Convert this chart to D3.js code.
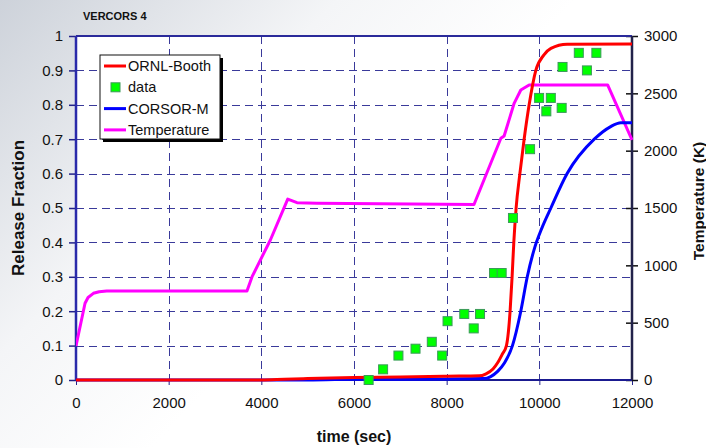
<!DOCTYPE html>
<html>
<head>
<meta charset="utf-8">
<script src="https://cdn.jsdelivr.net/npm/d3@7"></script>
<style>
  html, body { margin: 0; padding: 0; }
  body { width: 706px; height: 448px; overflow: hidden; }
  svg { display: block; font-family: "Liberation Sans", Arial, sans-serif; }
</style>
</head>
<body>
<svg id="chart" width="706" height="448"></svg>
<script>
// --- data ---
var xTicks = [0, 2000, 4000, 6000, 8000, 10000, 12000];
var yTicks = [0, 0.1, 0.2, 0.3, 0.4, 0.5, 0.6, 0.7, 0.8, 0.9, 1];
var tTicks = [0, 500, 1000, 1500, 2000, 2500, 3000];

var dataTime = [6316, 6628, 6959, 7328, 7679, 7903, 8019, 8380, 8584, 8720, 9022, 9187,
                9431, 9800, 9995, 10151, 10248, 10482, 10501, 10852, 11027, 11231];
var dataFrac = [0.0, 0.031, 0.071, 0.091, 0.111, 0.071, 0.171, 0.192, 0.150, 0.192, 0.311, 0.311,
                0.471, 0.671, 0.820, 0.781, 0.820, 0.791, 0.910, 0.951, 0.900, 0.951];

var ornlTime = [0, 4000, 4500, 5000, 6000, 7000, 8000, 8700, 8850, 9000, 9100, 9200, 9290, 9369,
                9412, 9449, 9499, 9580, 9672, 9780, 9924, 10100, 10250, 10600, 12000];
var ornlFrac = [0, 0, 0.002, 0.004, 0.007, 0.009, 0.011, 0.012, 0.018, 0.032, 0.05, 0.075, 0.1, 0.2,
                0.3, 0.4, 0.5, 0.6, 0.7, 0.8, 0.9, 0.945, 0.964, 0.976, 0.977];

var corsorTime = [0, 4500, 6000, 8000, 8800, 8950, 9100, 9250, 9420, 9600, 9740, 9900, 10050, 10249,
                  10600, 11185, 11531, 11762, 12000];
var corsorFrac = [0, 0, 0.002, 0.003, 0.004, 0.01, 0.025, 0.05, 0.1, 0.2, 0.3, 0.385, 0.44, 0.5,
                  0.6, 0.7, 0.736, 0.748, 0.748];

var tempTime = [0, 195, 260, 375, 500, 663, 3690, 3800, 4195, 4570, 4770, 5200, 8590, 9170, 9240, 9456,
                9600, 9780, 11474, 12000];
var tempK = [296, 669, 720, 756, 770, 776, 776, 901, 1221, 1578, 1546, 1541, 1530, 2108, 2128, 2413,
             2529, 2573, 2573, 2093];

var seriesNames = ["ORNL-Booth", "data", "CORSOR-M", "Temperature"];
var seriesColors = ["#ff0000", "#00ff00", "#0000ff", "#ff00ff"];

// --- layout ---
var W = 706, H = 448;
var padL = 76, padR = 632, padT = 36, padB = 380;

var svg = d3.select("#chart");

// background gradient
var defs = svg.append("defs");
var grad = defs.append("linearGradient").attr("id", "bg")
  .attr("x1", "0").attr("y1", "0").attr("x2", "1").attr("y2", "0.6");
grad.append("stop").attr("offset", "0").attr("stop-color", "#cdd2da");
grad.append("stop").attr("offset", "0.35").attr("stop-color", "#f4f5f7");
grad.append("stop").attr("offset", "0.6").attr("stop-color", "#ffffff");
svg.append("rect").attr("width", W).attr("height", H).attr("fill", "url(#bg)");

var x = d3.scaleLinear().domain([0, 12000]).range([padL, padR]);
var y = d3.scaleLinear().domain([0, 1]).range([padB, padT]);
var yT = d3.scaleLinear().domain([0, 3000]).range([padB, padT]);

// plot area
svg.append("rect").attr("x", padL).attr("y", padT)
  .attr("width", padR - padL).attr("height", padB - padT).attr("fill", "#ffffff");

// grid
var grid = svg.append("g").attr("stroke", "#3a3a9a").attr("stroke-width", 1)
  .attr("stroke-dasharray", "8,5");
grid.selectAll("line.h").data(yTicks.filter(function (d) { return d > 0 && d < 1; }))
  .enter().append("line").attr("class", "h")
  .attr("x1", padL).attr("x2", padR)
  .attr("y1", function (d) { return Math.round(y(d)) + 0.5; })
  .attr("y2", function (d) { return Math.round(y(d)) + 0.5; });
grid.selectAll("line.v").data(xTicks.filter(function (d) { return d > 0 && d < 12000; }))
  .enter().append("line").attr("class", "v")
  .attr("y1", padT).attr("y2", padB)
  .attr("x1", function (d) { return Math.round(x(d)) + 0.5; })
  .attr("x2", function (d) { return Math.round(x(d)) + 0.5; });

// axes
var fontSize = 15;
var gx = svg.append("g").attr("transform", "translate(0," + padB + ")")
  .call(d3.axisBottom(x).tickValues(xTicks).tickFormat(d3.format("d")).tickSize(5).tickPadding(12));
var gy = svg.append("g").attr("transform", "translate(" + padL + ",0)")
  .call(d3.axisLeft(y).tickValues(yTicks).tickFormat(function (d) { return d === 0 || d === 1 ? String(d) : d3.format(".1f")(d); }).tickSize(7).tickPadding(6));
var gr = svg.append("g").attr("transform", "translate(" + padR + ",0)")
  .call(d3.axisRight(yT).tickValues(tTicks).tickFormat(d3.format("d")).tickSize(6).tickPadding(6));
gr.selectAll(".tick line").attr("x1", -6);

[gx, gy, gr].forEach(function (g) {
  g.select(".domain").remove();
  g.selectAll(".tick text").attr("font-size", fontSize)
    .attr("font-family", "Liberation Sans, Arial, sans-serif").attr("fill", "#111");
});
gx.selectAll(".tick line").attr("stroke", "#22228a");
gy.selectAll(".tick line").attr("stroke", "#22228a").attr("stroke-width", 1.5);
gr.selectAll(".tick line").attr("stroke", "#111").attr("stroke-width", 1.5);

// frame
svg.append("line").attr("x1", padL).attr("x2", padR).attr("y1", padT).attr("y2", padT)
  .attr("stroke", "#2a2a9a").attr("stroke-width", 2);
svg.append("line").attr("x1", padL).attr("x2", padL).attr("y1", padT).attr("y2", padB)
  .attr("stroke", "#2a2aaa").attr("stroke-width", 2.5);
svg.append("line").attr("x1", padL).attr("x2", padR).attr("y1", padB).attr("y2", padB)
  .attr("stroke", "#1a1a90").attr("stroke-width", 2);
svg.append("line").attr("x1", padR).attr("x2", padR).attr("y1", padT).attr("y2", padB)
  .attr("stroke", "#22224a").attr("stroke-width", 2.5);

// lines
var clip = defs.append("clipPath").attr("id", "plotclip");
clip.append("rect").attr("x", padL).attr("y", padT - 4).attr("width", padR - padL + 1).attr("height", padB - padT + 8);

var lineFrac = d3.line().curve(d3.curveMonotoneX)
  .x(function (d) { return x(d[0]); }).y(function (d) { return y(d[1]); });
var lineTemp = d3.line()
  .x(function (d) { return x(d[0]); }).y(function (d) { return yT(d[1]); });

var plot = svg.append("g").attr("clip-path", "url(#plotclip)");

plot.append("path").datum(d3.zip(tempTime, tempK))
  .attr("d", lineTemp).attr("fill", "none").attr("stroke", seriesColors[3])
  .attr("stroke-width", 3).attr("stroke-linejoin", "round");
plot.append("path").datum(d3.zip(corsorTime, corsorFrac))
  .attr("d", lineFrac).attr("fill", "none").attr("stroke", seriesColors[2]).attr("stroke-width", 3);
plot.append("path").datum(d3.zip(ornlTime, ornlFrac))
  .attr("d", lineFrac).attr("fill", "none").attr("stroke", seriesColors[0]).attr("stroke-width", 3);

var sq = 9;
svg.append("g").selectAll("rect").data(d3.zip(dataTime, dataFrac)).enter().append("rect")
  .attr("x", function (d) { return x(d[0]) - sq / 2; })
  .attr("y", function (d) { return y(d[1]) - sq / 2; })
  .attr("width", sq).attr("height", sq)
  .attr("fill", seriesColors[1]).attr("stroke", "#3c9a5a").attr("stroke-width", 1);

// legend
var lg = svg.append("g").attr("transform", "translate(100,55)");
lg.append("rect").attr("x", 3).attr("y", 3).attr("width", 120).attr("height", 84).attr("fill", "#000");
lg.append("rect").attr("x", 0).attr("y", 0).attr("width", 120).attr("height", 84)
  .attr("fill", "#fff").attr("stroke", "#111").attr("stroke-width", 1);
var items = lg.selectAll("g.item").data(seriesNames).enter().append("g")
  .attr("class", "item")
  .attr("transform", function (d, i) { return "translate(0," + (11 + i * 21.3) + ")"; });
items.each(function (d, i) {
  var g = d3.select(this);
  if (d === "data") {
    g.append("rect").attr("x", 11).attr("y", -4.5).attr("width", 9).attr("height", 9)
      .attr("fill", seriesColors[i]).attr("stroke", "#3c9a5a");
  } else {
    g.append("line").attr("x1", 4).attr("x2", 26).attr("y1", 0).attr("y2", 0)
      .attr("stroke", seriesColors[i]).attr("stroke-width", 3);
  }
  g.append("text").attr("x", 28).attr("y", 5).attr("font-size", 14.5).attr("fill", "#111").text(d);
});

// titles
svg.append("text").attr("x", 83).attr("y", 20).attr("font-size", 11).attr("font-weight", "bold")
  .attr("fill", "#111").text("VERCORS 4");
svg.append("text").attr("x", (padL + padR) / 2).attr("y", 442).attr("text-anchor", "middle")
  .attr("font-size", 16).attr("font-weight", "bold").attr("fill", "#111").text("time (sec)");
svg.append("text").attr("transform", "translate(24,208) rotate(-90)").attr("text-anchor", "middle")
  .attr("font-size", 17).attr("font-weight", "bold").attr("fill", "#111").text("Release Fraction");
svg.append("text").attr("transform", "translate(704,201) rotate(-90)").attr("text-anchor", "middle")
  .attr("font-size", 15.5).attr("font-weight", "bold").attr("fill", "#111").text("Temperature (K)");
</script>
</body>
</html>
